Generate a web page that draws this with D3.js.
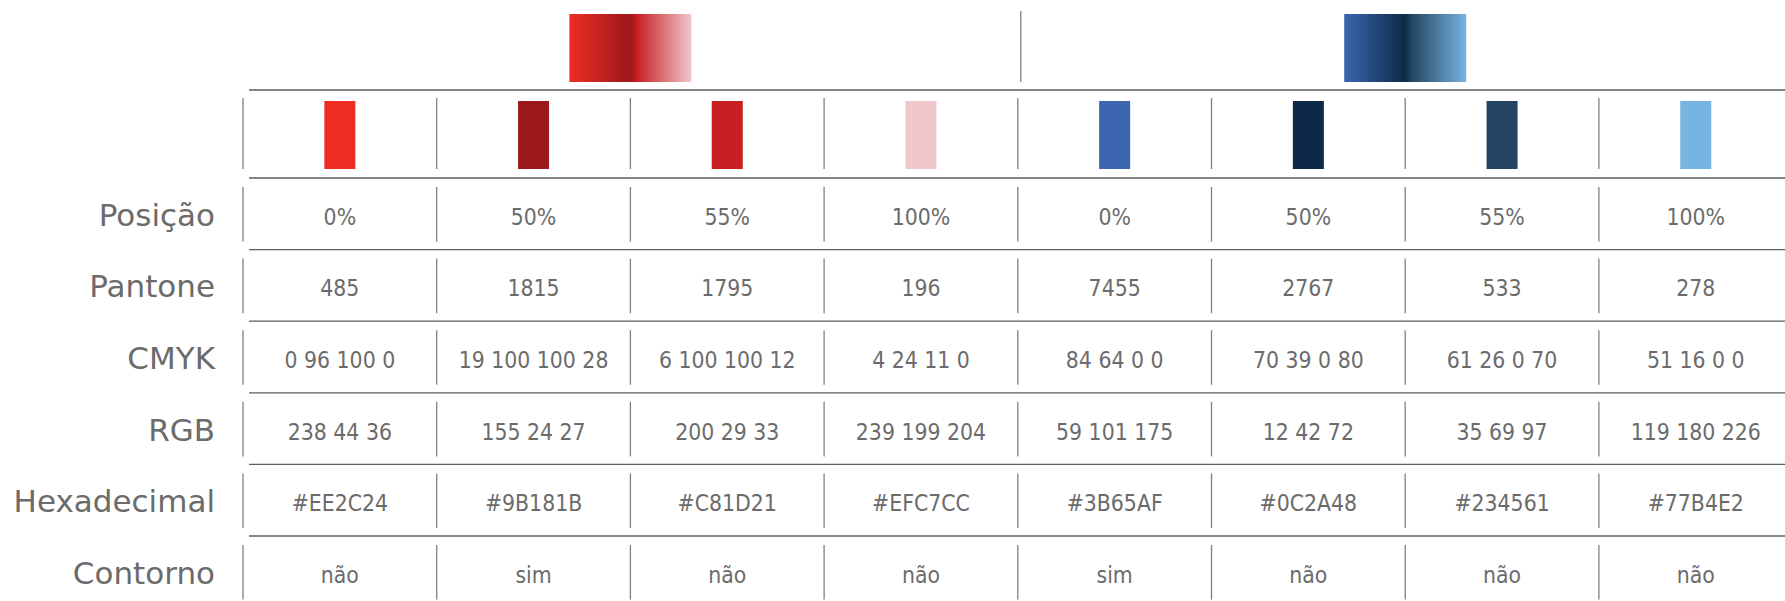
<!DOCTYPE html>
<html>
<head>
<meta charset="utf-8">
<script src="https://cdn.jsdelivr.net/npm/d3@7"></script>
<style>
  html, body { margin: 0; padding: 0; background: #ffffff; overflow: hidden; }
  svg { display: block; }
</style>
</head>
<body>
<svg id="chart" width="1785" height="601"></svg>
<script>
// ---- data ----
const columns = ["c1", "c2", "c3", "c4", "c5", "c6", "c7", "c8"];
const groups = ["vermelho", "azul"];
const groupOf = [0, 0, 0, 0, 1, 1, 1, 1];
const rowLabels = ["Posição", "Pantone", "CMYK", "RGB", "Hexadecimal", "Contorno"];
const posicao = ["0%", "50%", "55%", "100%", "0%", "50%", "55%", "100%"];
const pantone = ["485", "1815", "1795", "196", "7455", "2767", "533", "278"];
const cmyk = ["0 96 100 0", "19 100 100 28", "6 100 100 12", "4 24 11 0", "84 64 0 0", "70 39 0 80", "61 26 0 70", "51 16 0 0"];
const rgb = ["238 44 36", "155 24 27", "200 29 33", "239 199 204", "59 101 175", "12 42 72", "35 69 97", "119 180 226"];
const hexa = ["#EE2C24", "#9B181B", "#C81D21", "#EFC7CC", "#3B65AF", "#0C2A48", "#234561", "#77B4E2"];
const contorno = ["não", "sim", "não", "não", "sim", "não", "não", "não"];

const rowsData = [posicao, pantone, cmyk, rgb, hexa, contorno];

// ---- layout ----
const svg = d3.select("#chart");
const textColor = "#6b6b6b";
const lineColor = "#5e5e5e";
const divColor = "#808080";
const fontFam = "'DejaVu Sans', Verdana, sans-serif";

const x = d3.scaleBand().domain(columns).range([243, 243 + 8 * 193.7]);
const bw = x.bandwidth();
const rowH = 71.6;
const y = d3.scaleBand().domain(rowLabels).range([178, 178 + rowLabels.length * rowH]);
const headerTop = 90;

// gradients
const defs = svg.append("defs");
groups.forEach((g, gi) => {
  const idx = d3.range(columns.length).filter(i => groupOf[i] === gi);
  const grad = defs.append("linearGradient").attr("id", "grad-" + g)
    .attr("x1", "0%").attr("x2", "100%").attr("y1", "0%").attr("y2", "0%");
  idx.forEach(i => {
    grad.append("stop").attr("offset", posicao[i]).attr("stop-color", hexa[i]);
  });
  const cx = x(columns[idx[2]]);
  svg.append("rect")
    .attr("x", cx - 61).attr("y", 14)
    .attr("width", 122).attr("height", 68)
    .attr("fill", "url(#grad-" + g + ")");
});

// group divider on top area
svg.append("line")
  .attr("x1", x(columns[4]) + 3).attr("x2", x(columns[4]) + 3)
  .attr("y1", 11).attr("y2", 82)
  .attr("stroke", divColor).attr("stroke-width", 1.3);

// horizontal lines
const hLines = [headerTop].concat(rowLabels.map(r => y(r)));
svg.selectAll("line.h").data(hLines).join("line").attr("class", "h")
  .attr("x1", 249).attr("x2", 1785)
  .attr("y1", d => d).attr("y2", d => d)
  .attr("stroke", lineColor).attr("stroke-width", 1.3);

// swatch row
svg.selectAll("rect.sw").data(columns).join("rect").attr("class", "sw")
  .attr("x", d => x(d) + bw / 2 - 15.5)
  .attr("y", headerTop + 11)
  .attr("width", 31).attr("height", 68)
  .attr("fill", (d, i) => hexa[i]);

// vertical dividers in swatch row
svg.selectAll("line.vs").data(columns).join("line").attr("class", "vs")
  .attr("x1", d => x(d)).attr("x2", d => x(d))
  .attr("y1", headerTop + 8).attr("y2", headerTop + 88 - 9)
  .attr("stroke", divColor).attr("stroke-width", 1.3);

// data rows
rowLabels.forEach((lab, ri) => {
  const top = y(lab);
  const cy = top + rowH / 2;
  svg.append("text")
    .attr("x", 215).attr("y", cy + 12)
    .attr("text-anchor", "end")
    .attr("font-family", fontFam).attr("font-size", 31)
    .attr("fill", textColor)
    .text(lab);
  svg.selectAll("line.v" + ri).data(columns).join("line").attr("class", "v" + ri)
    .attr("x1", d => x(d)).attr("x2", d => x(d))
    .attr("y1", top + 9).attr("y2", top + rowH - 8)
    .attr("stroke", divColor).attr("stroke-width", 1.3);
  svg.selectAll("text.t" + ri).data(rowsData[ri]).join("text").attr("class", "t" + ri)
    .attr("transform", (d, i) => `translate(${x(columns[i]) + bw / 2},${cy + 11}) scale(0.91,1)`)
    .attr("text-anchor", "middle")
    .attr("font-family", fontFam).attr("font-size", 22.5)
    .attr("fill", textColor)
    .text(d => d);
});
</script>
</body>
</html>
